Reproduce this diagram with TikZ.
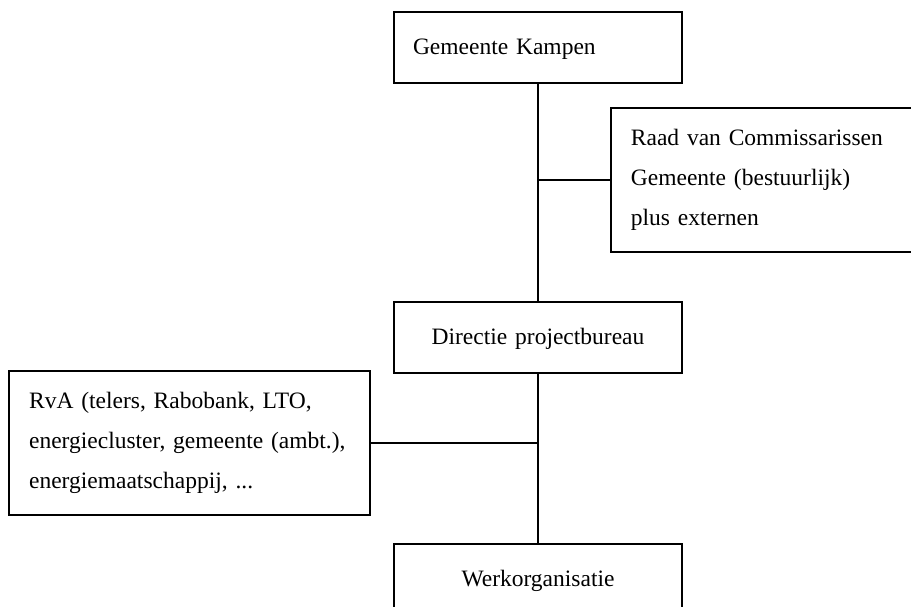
\documentclass[tikz,border=0pt]{standalone}
\usepackage{fontspec}
\setmainfont{Liberation Serif}
\usepackage{tikz}
\usetikzlibrary{positioning,calc}

\begin{document}
\begin{tikzpicture}[
      x=1pt, y=-1pt,
      font=\fontsize{23.5}{40}\selectfont,
      unit/.style={draw, line width=1.8pt, minimum height=71pt, inner ysep=0pt,
                   inner xsep=19pt, text width=250pt, align=center,
                   text height=15pt, text depth=0pt},
      side/.style={draw, line width=1.8pt, minimum height=144pt, inner ysep=0pt,
                   inner xsep=20pt, align=left},
      link/.style={line width=1.6pt}
    ]
    \useasboundingbox (0,0) rectangle (911,607);
    \clip (0,0) rectangle (911,607);

    \node[unit, align=left] (gem) at (538,47.5) {Gemeente Kampen};
    \node[unit, below=217pt of gem] (dir) {Directie projectbureau};
    \node[unit, below=169pt of dir] (werk) {Werkorganisatie};

    \coordinate (hubA) at (gem.south |- 0,180);
    \coordinate (hubB) at (dir.south |- 0,443);

    \node[side, text width=275pt, right=72pt of hubA] (raad)
         {Raad van Commissarissen\\ Gemeente (bestuurlijk)\\ plus externen};
    \node[side, text width=321pt, left=167pt of hubB] (rva)
         {RvA (telers, Rabobank, LTO,\\ energiecluster, gemeente (ambt.),\\ energiemaatschappij, ...};

    \draw[link] (gem.south) -- (dir.north);
    \draw[link] (hubA) -- (raad.west);
    \draw[link] (dir.south) -- (werk.north);
    \draw[link] (hubB) -- (rva.east);
  \end{tikzpicture}
\end{document}
